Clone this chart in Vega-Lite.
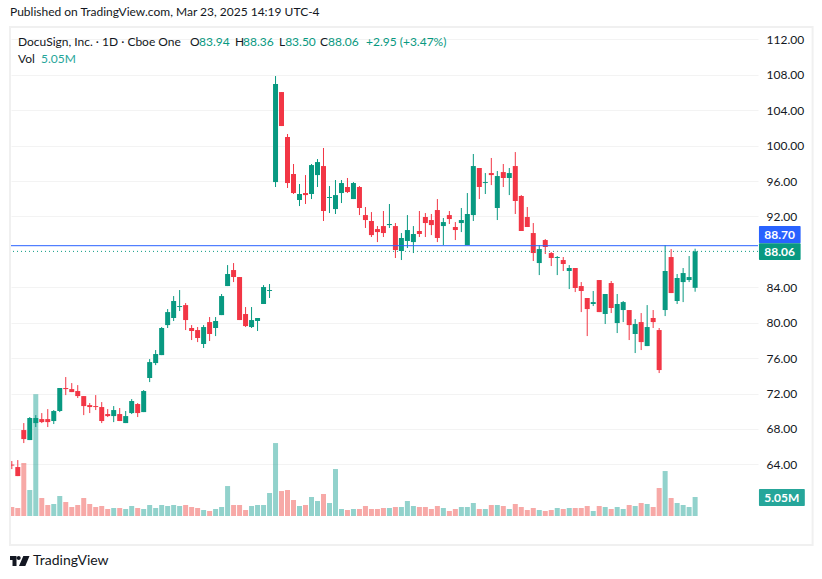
{
"$schema":"https://vega.github.io/schema/vega-lite/v6.json",
"width":747,"height":489,
"autosize":"none",
"padding":{"left":11,"top":27,"right":64,"bottom":63},
"background":"white",
"title":{"text":"Published on TradingView.com, Mar 23, 2025 14:19 UTC-4","anchor":"start","frame":"group","font":"Lato","fontSize":12,"fontWeight":"normal","color":"#131722","offset":7,"dx":-1},
"config":{"view":{"stroke":null},"font":"Lato"},
"datasets":{"candles":[
{"i":0,"o":63.97,"h":64.37,"l":63.46,"c":63.86,"v":2.39},
{"i":1,"o":63.69,"h":64.48,"l":62.67,"c":62.67,"v":2.13},
{"i":2,"o":67.87,"h":68.66,"l":66.40,"c":66.85,"v":14.09},
{"i":3,"o":66.74,"h":69.34,"l":66.74,"c":69.23,"v":6.91},
{"i":4,"o":68.66,"h":69.56,"l":68.21,"c":69.23,"v":32.4},
{"i":5,"o":69.11,"h":69.79,"l":68.66,"c":68.77,"v":4.78},
{"i":6,"o":69.11,"h":70.24,"l":68.21,"c":68.77,"v":2.92},
{"i":7,"o":68.89,"h":70.13,"l":68.55,"c":70.02,"v":3.19},
{"i":8,"o":70.02,"h":72.62,"l":69.90,"c":72.62,"v":5.32},
{"i":9,"o":72.62,"h":73.86,"l":71.82,"c":72.50,"v":3.72},
{"i":10,"o":72.50,"h":73.18,"l":72.16,"c":72.16,"v":2.39},
{"i":11,"o":72.28,"h":72.95,"l":71.49,"c":71.71,"v":2.92},
{"i":12,"o":71.71,"h":71.71,"l":69.56,"c":70.58,"v":4.78},
{"i":13,"o":70.69,"h":70.92,"l":69.79,"c":70.47,"v":3.19},
{"i":14,"o":70.58,"h":71.82,"l":70.13,"c":70.47,"v":2.39},
{"i":15,"o":70.47,"h":71.03,"l":68.66,"c":68.89,"v":2.66},
{"i":16,"o":69.68,"h":70.24,"l":69.34,"c":69.45,"v":1.86},
{"i":17,"o":69.45,"h":70.58,"l":68.77,"c":70.13,"v":2.13},
{"i":18,"o":69.68,"h":70.36,"l":68.89,"c":68.89,"v":2.13},
{"i":19,"o":68.66,"h":70.02,"l":68.66,"c":69.45,"v":1.86},
{"i":20,"o":69.79,"h":71.37,"l":69.68,"c":71.15,"v":2.66},
{"i":21,"o":70.81,"h":70.92,"l":69.34,"c":69.79,"v":2.13},
{"i":22,"o":69.90,"h":72.39,"l":69.90,"c":72.28,"v":1.86},
{"i":23,"o":73.75,"h":75.89,"l":73.29,"c":75.55,"v":2.92},
{"i":24,"o":75.44,"h":76.91,"l":75.21,"c":76.46,"v":2.13},
{"i":25,"o":76.34,"h":79.51,"l":76.34,"c":79.40,"v":2.92},
{"i":26,"o":79.73,"h":81.54,"l":79.40,"c":81.20,"v":2.66},
{"i":27,"o":80.53,"h":83.01,"l":80.19,"c":82.45,"v":2.92},
{"i":28,"o":81.77,"h":83.69,"l":81.32,"c":81.88,"v":2.66},
{"i":29,"o":81.99,"h":82.22,"l":79.17,"c":80.30,"v":2.92},
{"i":30,"o":79.40,"h":79.73,"l":78.04,"c":79.06,"v":2.39},
{"i":31,"o":79.17,"h":79.51,"l":77.81,"c":78.27,"v":2.13},
{"i":32,"o":77.59,"h":79.73,"l":77.14,"c":79.51,"v":1.59},
{"i":33,"o":80.07,"h":80.64,"l":77.93,"c":78.72,"v":1.33},
{"i":34,"o":79.40,"h":80.64,"l":78.49,"c":80.19,"v":1.86},
{"i":35,"o":80.86,"h":83.24,"l":80.86,"c":83.01,"v":2.39},
{"i":36,"o":84.14,"h":86.51,"l":84.14,"c":85.50,"v":7.97},
{"i":37,"o":85.95,"h":86.74,"l":84.59,"c":85.16,"v":2.92},
{"i":38,"o":85.16,"h":85.16,"l":80.30,"c":80.30,"v":2.92},
{"i":39,"o":80.98,"h":81.77,"l":79.51,"c":79.62,"v":1.59},
{"i":40,"o":79.51,"h":81.77,"l":79.40,"c":80.30,"v":2.66},
{"i":41,"o":80.19,"h":80.53,"l":79.06,"c":80.53,"v":2.92},
{"i":42,"o":82.11,"h":84.25,"l":82.11,"c":84.03,"v":2.92},
{"i":43,"o":83.58,"h":84.37,"l":82.79,"c":83.69,"v":6.11},
{"i":44,"o":95.89,"h":107.87,"l":95.33,"c":106.97,"v":19.40},
{"i":45,"o":106.06,"h":106.06,"l":102.22,"c":102.22,"v":6.64},
{"i":46,"o":100.98,"h":101.32,"l":95.22,"c":95.78,"v":6.91},
{"i":47,"o":96.80,"h":97.93,"l":94.54,"c":94.65,"v":4.25},
{"i":48,"o":93.86,"h":95.67,"l":93.18,"c":94.54,"v":2.66},
{"i":49,"o":94.65,"h":96.68,"l":93.41,"c":94.42,"v":2.92},
{"i":50,"o":94.54,"h":97.93,"l":93.97,"c":97.81,"v":5.05},
{"i":51,"o":96.68,"h":98.49,"l":95.33,"c":98.15,"v":3.99},
{"i":52,"o":97.70,"h":99.74,"l":91.49,"c":92.62,"v":5.85},
{"i":53,"o":94.09,"h":95.44,"l":92.39,"c":94.20,"v":3.46},
{"i":54,"o":92.84,"h":96.12,"l":92.28,"c":94.42,"v":12.49},
{"i":55,"o":94.65,"h":96.12,"l":93.52,"c":95.78,"v":1.86},
{"i":56,"o":95.33,"h":96.35,"l":94.65,"c":94.76,"v":1.59},
{"i":57,"o":93.97,"h":95.89,"l":93.97,"c":95.78,"v":1.86},
{"i":58,"o":95.33,"h":95.44,"l":92.16,"c":92.96,"v":1.86},
{"i":59,"o":92.16,"h":93.07,"l":90.70,"c":91.60,"v":2.66},
{"i":60,"o":91.49,"h":92.50,"l":89.68,"c":89.90,"v":1.86},
{"i":61,"o":90.58,"h":90.92,"l":89.11,"c":90.24,"v":1.86},
{"i":62,"o":90.92,"h":92.62,"l":89.68,"c":90.13,"v":2.13},
{"i":63,"o":91.03,"h":93.41,"l":90.70,"c":91.15,"v":2.13},
{"i":64,"o":90.92,"h":91.26,"l":87.31,"c":88.21,"v":2.39},
{"i":65,"o":88.10,"h":90.13,"l":87.08,"c":89.57,"v":2.39},
{"i":66,"o":89.23,"h":92.16,"l":88.44,"c":90.47,"v":3.99},
{"i":67,"o":89.11,"h":90.92,"l":87.87,"c":90.02,"v":2.66},
{"i":68,"o":90.36,"h":92.62,"l":89.68,"c":90.02,"v":2.39},
{"i":69,"o":91.94,"h":92.39,"l":89.68,"c":91.26,"v":2.39},
{"i":70,"o":91.60,"h":92.28,"l":89.90,"c":91.03,"v":1.86},
{"i":71,"o":92.73,"h":93.97,"l":89.11,"c":89.57,"v":2.66},
{"i":72,"o":90.92,"h":91.83,"l":88.77,"c":91.37,"v":2.13},
{"i":73,"o":92.16,"h":92.62,"l":91.15,"c":91.71,"v":1.33},
{"i":74,"o":90.81,"h":91.37,"l":89.34,"c":90.47,"v":1.86},
{"i":75,"o":91.26,"h":92.96,"l":90.24,"c":91.60,"v":2.39},
{"i":76,"o":88.77,"h":94.65,"l":88.77,"c":92.28,"v":2.39},
{"i":77,"o":92.16,"h":99.06,"l":91.49,"c":97.70,"v":3.46},
{"i":78,"o":97.48,"h":97.48,"l":93.97,"c":95.33,"v":1.86},
{"i":79,"o":95.78,"h":96.91,"l":94.54,"c":95.89,"v":1.86},
{"i":80,"o":96.91,"h":98.61,"l":95.55,"c":96.68,"v":2.92},
{"i":81,"o":92.96,"h":97.14,"l":91.60,"c":96.57,"v":2.92},
{"i":82,"o":97.02,"h":97.93,"l":95.33,"c":96.35,"v":2.66},
{"i":83,"o":96.35,"h":97.48,"l":94.42,"c":96.91,"v":1.86},
{"i":84,"o":97.70,"h":99.28,"l":92.28,"c":93.75,"v":3.19},
{"i":85,"o":94.31,"h":94.42,"l":90.36,"c":90.36,"v":2.39},
{"i":86,"o":91.94,"h":93.07,"l":90.81,"c":90.81,"v":1.59},
{"i":87,"o":90.13,"h":91.26,"l":86.97,"c":87.87,"v":2.13},
{"i":88,"o":86.74,"h":88.77,"l":85.38,"c":88.32,"v":1.59},
{"i":89,"o":89.34,"h":89.45,"l":87.76,"c":88.55,"v":1.33},
{"i":90,"o":87.87,"h":87.98,"l":86.40,"c":87.31,"v":1.59},
{"i":91,"o":87.31,"h":87.53,"l":85.38,"c":87.42,"v":2.13},
{"i":92,"o":87.08,"h":87.42,"l":85.84,"c":86.63,"v":1.86},
{"i":93,"o":85.84,"h":86.51,"l":83.80,"c":86.18,"v":2.13},
{"i":94,"o":86.18,"h":86.18,"l":83.46,"c":83.92,"v":2.13},
{"i":95,"o":84.14,"h":84.59,"l":81.20,"c":83.58,"v":2.13},
{"i":96,"o":82.79,"h":82.79,"l":78.49,"c":81.54,"v":2.66},
{"i":97,"o":82.11,"h":83.58,"l":81.88,"c":82.33,"v":1.33},
{"i":98,"o":84.82,"h":84.82,"l":81.20,"c":81.20,"v":2.66},
{"i":99,"o":80.98,"h":83.24,"l":79.85,"c":83.24,"v":2.39},
{"i":100,"o":84.48,"h":84.71,"l":81.09,"c":81.66,"v":1.86},
{"i":101,"o":79.96,"h":83.24,"l":78.83,"c":82.11,"v":2.39},
{"i":102,"o":81.43,"h":82.45,"l":80.07,"c":82.33,"v":1.86},
{"i":103,"o":81.43,"h":81.43,"l":78.04,"c":79.73,"v":2.92},
{"i":104,"o":78.72,"h":80.41,"l":76.57,"c":79.85,"v":2.66},
{"i":105,"o":80.07,"h":81.09,"l":76.91,"c":77.81,"v":3.46},
{"i":106,"o":77.36,"h":81.99,"l":77.36,"c":79.51,"v":3.19},
{"i":107,"o":80.53,"h":81.43,"l":79.40,"c":80.07,"v":2.39},
{"i":108,"o":79.17,"h":79.40,"l":74.31,"c":74.65,"v":7.44},
{"i":109,"o":81.43,"h":88.77,"l":80.75,"c":85.84,"v":11.96},
{"i":110,"o":87.42,"h":88.32,"l":83.35,"c":83.35,"v":4.78},
{"i":111,"o":82.45,"h":85.50,"l":82.11,"c":85.05,"v":3.46},
{"i":112,"o":84.59,"h":86.18,"l":82.33,"c":85.61,"v":2.92},
{"i":113,"o":84.82,"h":87.53,"l":84.59,"c":85.16,"v":2.39},
{"i":114,"o":83.94,"h":88.36,"l":83.50,"c":88.06,"v":5.05}
]},
"layer":[
{"data":{"name":"candles"},
 "mark":{"type":"bar","size":5,"orient":"vertical"},
 "encoding":{
  "x":{"field":"i","type":"quantitative","scale":{"domain":[-0.133,124.49],"nice":false,"zero":false,"padding":0},
   "axis":{"title":null,"values":[20,40,61,81,100,121],"labelExpr":"{20:'Nov',40:'Dec',61:'2025',81:'Feb',100:'Mar',121:'Apr'}[datum.value]","domain":false,"ticks":false,"grid":true,"gridColor":"#f3f3f3","gridWidth":1,"labelFont":"Lato","labelFontSize":12,"labelColor":"#131722","labelPadding":9,"labelFontWeight":{"condition":{"test":"datum.value==61","value":"bold"},"value":"normal"}}},
  "y":{"field":"v","type":"quantitative","stack":null,"scale":{"domain":[0,130.05],"nice":false},"axis":null},
  "color":{"condition":{"test":"datum.c>=datum.o","value":"#26a69a"},"value":"#ef5350"},
  "opacity":{"value":0.5}
 }},
{"layer":[
 {"data":{"name":"candles"},
  "layer":[
  {"mark":{"type":"rule","strokeWidth":1},
   "encoding":{
    "x":{"field":"i","type":"quantitative","axis":null},
    "y":{"field":"l","type":"quantitative","scale":{"domain":[58.16,113.41],"nice":false,"zero":false},
     "axis":{"title":null,"orient":"right","values":[64,68,72,76,80,84,92,96,100,104,108,112],"format":".2f","domain":false,"ticks":false,"grid":true,"gridColor":"#f3f3f3","gridWidth":1,"labelFont":"Lato","labelFontSize":12,"labelColor":"#131722","labelPadding":8}},
    "y2":{"field":"h"},
    "color":{"condition":{"test":"datum.c>=datum.o","value":"#089981"},"value":"#f23645"}
   }},
  {"mark":{"type":"bar","size":5,"orient":"vertical"},
   "encoding":{
    "x":{"field":"i","type":"quantitative","axis":null},
    "y":{"field":"o","type":"quantitative"},
    "y2":{"field":"c"},
    "color":{"condition":{"test":"datum.c>=datum.o","value":"#089981"},"value":"#f23645"}
   }}
  ]},
 {"data":{"values":[{"note":"annotation"}]},
  "layer":[
  {"mark":{"type":"rule","color":"#2962ff","strokeWidth":1},"encoding":{"y":{"datum":88.70,"type":"quantitative"}}},
  {"mark":{"type":"rule","color":"#089981","strokeWidth":1,"strokeDash":[1,3]},"encoding":{"y":{"datum":88.06,"type":"quantitative"}}},
  {"mark":{"type":"rect","fill":null,"stroke":"#f0f0f0","strokeWidth":2},
   "encoding":{"x":{"datum":-0.3,"type":"quantitative","axis":null},"x2":{"datum":133.6},"y":{"datum":54.88,"type":"quantitative"},"y2":{"datum":113.41}}},
  {"mark":{"type":"rect","fill":"#2962ff","cornerRadius":1},
   "encoding":{"x":{"datum":124.65,"type":"quantitative","axis":null},"x2":{"datum":131.6},"y":{"datum":88.97,"type":"quantitative"},"y2":{"datum":90.93}}},
  {"mark":{"type":"rect","fill":"#089981","cornerRadius":1},
   "encoding":{"x":{"datum":124.65,"type":"quantitative","axis":null},"x2":{"datum":131.6},"y":{"datum":87.08,"type":"quantitative"},"y2":{"datum":88.97}}},
  {"mark":{"type":"rect","fill":"#26a69a","cornerRadius":1},
   "encoding":{"x":{"datum":124.65,"type":"quantitative","axis":null},"x2":{"datum":132.3},"y":{"datum":59.29,"type":"quantitative"},"y2":{"datum":61.21}}},
  {"mark":{"type":"text","text":"88.70","color":"white","align":"center","baseline":"middle","fontSize":12,"fontWeight":"bold"},
   "encoding":{"x":{"datum":128.1,"type":"quantitative","axis":null},"y":{"datum":89.95,"type":"quantitative"}}},
  {"mark":{"type":"text","text":"88.06","color":"white","align":"center","baseline":"middle","fontSize":12,"fontWeight":"bold"},
   "encoding":{"x":{"datum":128.1,"type":"quantitative","axis":null},"y":{"datum":88.02,"type":"quantitative"}}},
  {"mark":{"type":"text","text":"5.05M","color":"white","align":"center","baseline":"middle","fontSize":12,"fontWeight":"bold"},
   "encoding":{"x":{"datum":128.45,"type":"quantitative","axis":null},"y":{"datum":60.25,"type":"quantitative"}}},
  {"mark":{"type":"text","text":"DocuSign, Inc. · 1D · Cboe One","color":"#131722","align":"left","baseline":"middle","fontSize":12},
   "encoding":{"x":{"datum":1.03,"type":"quantitative","axis":null},"y":{"datum":111.72,"type":"quantitative"}}},
  {"mark":{"type":"text","text":"O","color":"#131722","align":"left","baseline":"middle","fontSize":12},
   "encoding":{"x":{"datum":29.74,"type":"quantitative","axis":null},"y":{"datum":111.72,"type":"quantitative"}}},
  {"mark":{"type":"text","text":"83.94","color":"#089981","align":"left","baseline":"middle","fontSize":12},
   "encoding":{"x":{"datum":31.23,"type":"quantitative","axis":null},"y":{"datum":111.72,"type":"quantitative"}}},
  {"mark":{"type":"text","text":"H","color":"#131722","align":"left","baseline":"middle","fontSize":12},
   "encoding":{"x":{"datum":37.24,"type":"quantitative","axis":null},"y":{"datum":111.72,"type":"quantitative"}}},
  {"mark":{"type":"text","text":"88.36","color":"#089981","align":"left","baseline":"middle","fontSize":12},
   "encoding":{"x":{"datum":38.57,"type":"quantitative","axis":null},"y":{"datum":111.72,"type":"quantitative"}}},
  {"mark":{"type":"text","text":"L","color":"#131722","align":"left","baseline":"middle","fontSize":12},
   "encoding":{"x":{"datum":44.58,"type":"quantitative","axis":null},"y":{"datum":111.72,"type":"quantitative"}}},
  {"mark":{"type":"text","text":"83.50","color":"#089981","align":"left","baseline":"middle","fontSize":12},
   "encoding":{"x":{"datum":45.6,"type":"quantitative","axis":null},"y":{"datum":111.72,"type":"quantitative"}}},
  {"mark":{"type":"text","text":"C","color":"#131722","align":"left","baseline":"middle","fontSize":12},
   "encoding":{"x":{"datum":51.42,"type":"quantitative","axis":null},"y":{"datum":111.72,"type":"quantitative"}}},
  {"mark":{"type":"text","text":"88.06","color":"#089981","align":"left","baseline":"middle","fontSize":12},
   "encoding":{"x":{"datum":52.75,"type":"quantitative","axis":null},"y":{"datum":111.72,"type":"quantitative"}}},
  {"mark":{"type":"text","text":"+2.95 (+3.47%)","color":"#089981","align":"left","baseline":"middle","fontSize":12},
   "encoding":{"x":{"datum":59.09,"type":"quantitative","axis":null},"y":{"datum":111.72,"type":"quantitative"}}},
  {"mark":{"type":"text","text":"Vol","color":"#131722","align":"left","baseline":"middle","fontSize":12},
   "encoding":{"x":{"datum":1.03,"type":"quantitative","axis":null},"y":{"datum":109.8,"type":"quantitative"}}},
  {"mark":{"type":"text","text":"5.05M","color":"#26a69a","align":"left","baseline":"middle","fontSize":12},
   "encoding":{"x":{"datum":4.87,"type":"quantitative","axis":null},"y":{"datum":109.8,"type":"quantitative"}}},
  {"mark":{"type":"point","filled":true,"opacity":1,"color":"#131722","size":400,"shape":"M-1 -.5L-.35 -.5L-.35 .5L-.75 .5L-.75 -.1L-1 -.1ZM-.33 -.3a.2 .2 0 1 0 .4 0a.2 .2 0 1 0 -.4 0ZM.33 -.5L.95 -.5L.53 .5L-.1 .5Z"},
   "encoding":{"x":{"datum":1.37,"type":"quantitative","axis":null},"y":{"datum":53.07,"type":"quantitative"}}},
  {"mark":{"type":"text","text":"TradingView","color":"#131722","align":"left","baseline":"middle","fontSize":14},
   "encoding":{"x":{"datum":3.54,"type":"quantitative","axis":null},"y":{"datum":53.07,"type":"quantitative"}}}
  ]}
 ]}
],
"resolve":{"scale":{"y":"independent"}}
}
